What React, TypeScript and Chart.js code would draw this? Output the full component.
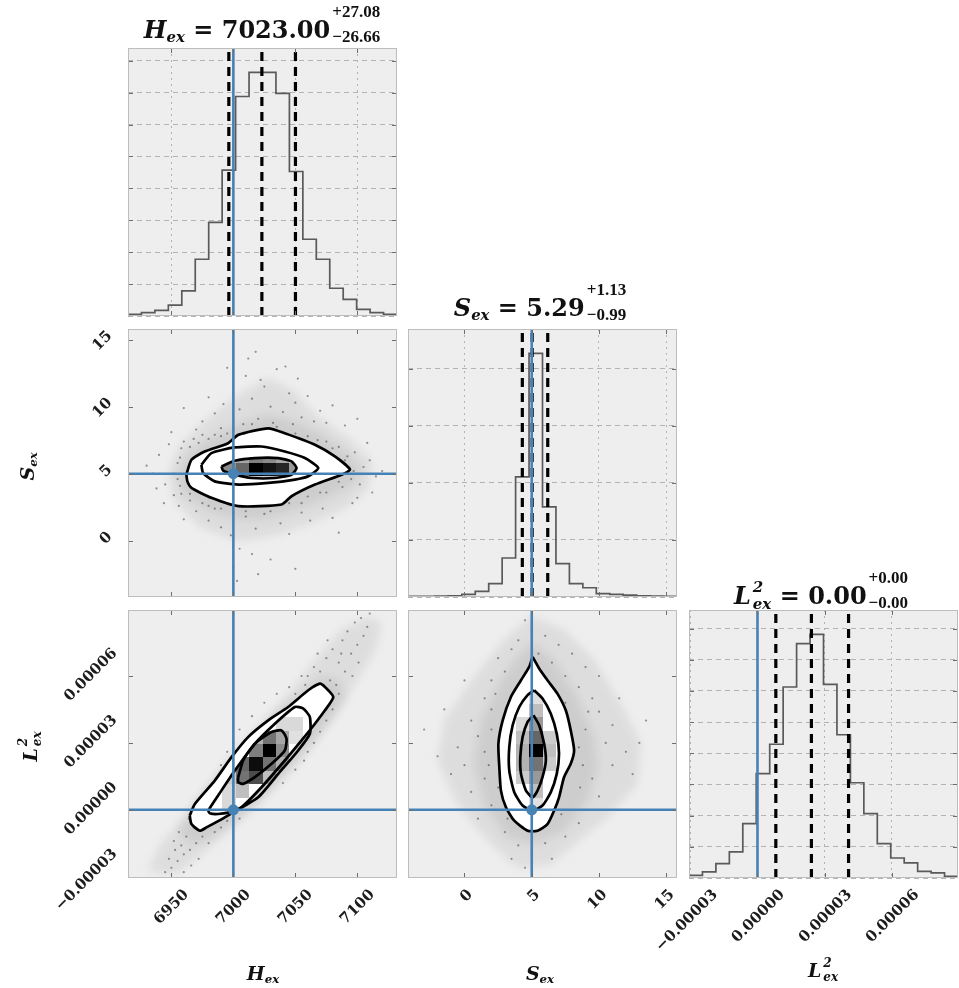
import React, { useEffect, useRef } from 'react';
import { Chart, registerables } from 'chart.js';

Chart.register(...registerables);

// ---------------- data ----------------
const NBINS = 20;
const H_RANGE: [number, number] = [6915, 7132];
const S_RANGE: [number, number] = [-4.2, 15.8];
const L_RANGE: [number, number] = [-30.6e-6, 89.6e-6];

const H_TICKS = [6950, 7000, 7050, 7100];
const S_TICKS = [0, 5, 10, 15];
const L_TICKS = [-0.00003, 0, 0.00003, 0.00006];

const H_TRUTH = 7000;
const S_TRUTH = 5;
const L_TRUTH = 0;

const H_COUNTS = [7, 14, 23, 45, 103, 233, 384, 599, 901, 1000, 1000, 914, 593, 315, 233, 114, 68, 27, 14, 7];
const S_COUNTS = [3, 3, 4, 5, 11, 23, 55, 160, 493, 1000, 370, 137, 55, 38, 14, 11, 8, 5, 4, 3];
const L_COUNTS = [11, 25, 59, 107, 223, 428, 549, 784, 962, 1000, 795, 588, 391, 264, 141, 82, 62, 27, 21, 7];

const H_QUANTILES = [6996.34, 7023.0, 7050.08];
const S_QUANTILES = [4.3, 5.03, 6.19];
const L_QUANTILES = [8.2e-6, 24.1e-6, 40.7e-6];

const H_HIST_STEP = 131;
const S_HIST_STEP = 234;
const L_HIST_STEP = 128;

type Pt = [number, number];

// contours (outer, middle, inner)
const HS_OUTER: Pt[] = [[6962.1, 4.93], [6966.2, 6.04], [6976.9, 6.66], [6995.8, 7.28], [7003.9, 7.9], [7028.1, 8.39], [7041.5, 8.02], [7065.8, 7.16], [7081.9, 6.29], [7094.1, 5.3], [7087.3, 4.93], [7065.8, 4.19], [7046.9, 3.32], [7038.9, 2.7], [7003.9, 2.58], [6982.3, 3.2], [6966.2, 3.94], [6962.9, 4.43]];
const HS_MIDDLE: Pt[] = [[6974.2, 5.67], [6982.3, 6.54], [7001.2, 6.96], [7022.7, 7.03], [7041.5, 6.66], [7057.7, 6.17], [7068.5, 5.42], [7060.4, 4.81], [7049.6, 4.56], [7028.1, 4.31], [7003.9, 4.19], [6985.0, 4.43], [6975.6, 5.05]];
const HS_INNER: Pt[] = [[6990.4, 5.55], [7001.2, 5.97], [7017.3, 6.17], [7036.2, 6.17], [7046.9, 5.92], [7051.0, 5.42], [7046.9, 4.93], [7033.5, 4.68], [7014.6, 4.68], [7001.2, 4.93], [6991.7, 5.23]];

const HL_OUTER: Pt[] = [[6964.8, -2.6e-6], [6968.9, 2.6e-6], [6985.0, 13.1e-6], [6998.5, 23.6e-6], [7011.9, 32.6e-6], [7028.1, 40.1e-6], [7044.2, 46.1e-6], [7060.4, 53.6e-6], [7069.8, 56.6e-6], [7073.9, 55.1e-6], [7080.6, 50.6e-6], [7073.9, 44.6e-6], [7065.8, 38.6e-6], [7055.0, 31.1e-6], [7041.5, 22.1e-6], [7022.7, 10.1e-6], [7006.5, 1.1e-6], [6993.1, -3.4e-6], [6978.3, -7.9e-6], [6972.9, -9.4e-6], [6966.2, -6.4e-6]];
const HL_MIDDLE: Pt[] = [[6979.6, -0.4e-6], [6987.7, 6.4e-6], [7001.2, 17.6e-6], [7017.3, 29.6e-6], [7033.5, 38.6e-6], [7049.6, 46.1e-6], [7056.4, 45.4e-6], [7061.7, 41.6e-6], [7061.7, 34.1e-6], [7052.3, 26.6e-6], [7036.2, 16.1e-6], [7020.0, 5.6e-6], [7001.2, -0.4e-6], [6987.7, -1.9e-6], [6981.0, -1.6e-6]];
const HL_INNER: Pt[] = [[7003.9, 14.6e-6], [7007.9, 22.1e-6], [7017.3, 29.6e-6], [7030.8, 34.9e-6], [7038.9, 35.6e-6], [7042.9, 31.9e-6], [7041.5, 26.6e-6], [7030.8, 20.6e-6], [7017.3, 14.6e-6], [7007.9, 11.6e-6], [7003.9, 12.4e-6]];

const SL_OUTER: Pt[] = [[5.06, 68.6e-6], [5.55, 63.4e-6], [6.17, 58.1e-6], [6.91, 52.1e-6], [7.53, 44.6e-6], [7.9, 35.6e-6], [8.15, 26.6e-6], [7.9, 20.6e-6], [7.4, 14.6e-6], [7.03, 5.6e-6], [6.66, -0.4e-6], [6.17, -6.4e-6], [5.43, -9.4e-6], [4.69, -9.4e-6], [3.7, -4.9e-6], [3.08, 1.1e-6], [2.71, 8.6e-6], [2.59, 19.1e-6], [2.52, 29.6e-6], [2.84, 40.1e-6], [3.45, 50.6e-6], [4.2, 58.1e-6], [4.81, 64.1e-6]];
const SL_MIDDLE: Pt[] = [[5.18, 53.6e-6], [5.8, 49.9e-6], [6.42, 43.1e-6], [6.86, 34.1e-6], [7.03, 25.1e-6], [6.86, 16.1e-6], [6.42, 7.9e-6], [5.8, 1.9e-6], [5.06, -0.4e-6], [4.32, 1.9e-6], [3.7, 7.9e-6], [3.33, 17.6e-6], [3.33, 28.1e-6], [3.58, 37.9e-6], [4.07, 46.1e-6], [4.69, 51.4e-6]];
const SL_INNER: Pt[] = [[5.13, 42.4e-6], [5.55, 37.9e-6], [5.92, 29.6e-6], [6.05, 22.1e-6], [5.8, 14.6e-6], [5.43, 8.6e-6], [5.06, 5.6e-6], [4.57, 8.6e-6], [4.2, 16.1e-6], [4.15, 23.6e-6], [4.32, 32.6e-6], [4.69, 39.4e-6]];

// extent of the sample cloud (outer, dense)
const HS_HALO_OUTER: Pt[] = [[6947.3, 4.93], [6955.4, 6.91], [6976.9, 8.89], [7003.9, 10.87], [7028.1, 12.11], [7049.6, 11.12], [7065.8, 9.38], [7092.7, 7.65], [7111.6, 5.92], [7108.9, 3.94], [7090.0, 2.45], [7065.8, 1.46], [7036.2, 0.47], [7003.9, -0.02], [6974.2, 0.97], [6952.7, 2.95]];
const HS_HALO_INNER: Pt[] = [[6955.4, 4.93], [6963.5, 6.41], [6982.3, 7.65], [7003.9, 8.64], [7028.1, 9.38], [7049.6, 8.89], [7071.2, 7.9], [7092.7, 6.41], [7103.5, 5.18], [7095.4, 4.19], [7073.9, 3.2], [7049.6, 2.33], [7028.1, 1.71], [7003.9, 1.59], [6979.6, 2.33], [6960.8, 3.44]];
const HL_HALO_OUTER: Pt[] = [[6931.2, -27.4e-6], [6941.9, -15.4e-6], [6960.8, -3.4e-6], [6982.3, 11.6e-6], [7003.9, 26.6e-6], [7028.1, 41.6e-6], [7049.6, 55.1e-6], [7068.5, 68.6e-6], [7087.3, 80.6e-6], [7108.9, 86.6e-6], [7119.6, 83.6e-6], [7114.2, 71.6e-6], [7098.1, 56.6e-6], [7081.9, 41.6e-6], [7060.4, 26.6e-6], [7038.9, 13.1e-6], [7017.3, 1.1e-6], [6995.8, -9.4e-6], [6974.2, -19.9e-6], [6952.7, -28.9e-6]];
const HL_HALO_INNER: Pt[] = [[6955.4, -9.4e-6], [6968.9, 2.6e-6], [6990.4, 17.6e-6], [7011.9, 31.1e-6], [7033.5, 43.1e-6], [7055.0, 52.1e-6], [7071.2, 59.6e-6], [7084.6, 58.1e-6], [7090.0, 50.6e-6], [7079.2, 41.6e-6], [7063.1, 29.6e-6], [7044.2, 17.6e-6], [7022.7, 5.6e-6], [7001.2, -4.9e-6], [6982.3, -12.4e-6], [6966.2, -15.4e-6]];
const SL_HALO_OUTER: Pt[] = [[4.94, 86.6e-6], [7.4, 80.6e-6], [9.63, 67.1e-6], [11.6, 47.6e-6], [13.08, 29.6e-6], [12.84, 11.6e-6], [10.61, -3.4e-6], [8.15, -15.4e-6], [6.42, -24.4e-6], [3.95, -25.9e-6], [1.97, -15.4e-6], [-0.5, 2.6e-6], [-1.98, 22.1e-6], [-1.48, 40.1e-6], [0.74, 59.6e-6], [2.96, 76.1e-6]];
const SL_HALO_INNER: Pt[] = [[5.06, 74.6e-6], [6.66, 67.1e-6], [8.39, 50.6e-6], [9.63, 32.6e-6], [9.87, 19.1e-6], [9.13, 4.1e-6], [7.4, -9.4e-6], [5.18, -15.4e-6], [3.21, -12.4e-6], [1.48, 2.6e-6], [0.74, 20.6e-6], [1.23, 40.1e-6], [2.71, 58.1e-6], [3.95, 68.6e-6]];

// 2-D histogram cells [xBin, yBin, darkness]
const HS_CELLS = [[6, 9, 0.15], [7, 9, 0.45], [8, 9, 0.6], [9, 9, 1.0], [10, 9, 0.92], [11, 9, 0.85], [12, 9, 0.4], [7, 10, 0.2], [8, 10, 0.35], [9, 10, 0.5], [10, 10, 0.45], [11, 10, 0.35], [12, 10, 0.15], [8, 8, 0.15], [9, 8, 0.2], [10, 8, 0.2], [11, 8, 0.15]];
const HL_CELLS = [[9, 9, 0.5], [10, 9, 1.0], [9, 8, 0.95], [10, 8, 0.55], [8, 8, 0.6], [8, 7, 0.55], [9, 7, 0.7], [11, 9, 0.45], [11, 10, 0.35], [10, 10, 0.55], [9, 10, 0.3], [11, 8, 0.3], [10, 7, 0.25], [8, 6, 0.25], [7, 6, 0.15], [7, 7, 0.2], [7, 5, 0.15], [11, 11, 0.15], [12, 11, 0.15], [12, 10, 0.12]];
const SL_CELLS = [[9, 9, 1.0], [9, 10, 0.6], [9, 8, 0.55], [9, 11, 0.4], [9, 7, 0.4], [9, 12, 0.25], [9, 6, 0.25], [9, 13, 0.12], [9, 5, 0.12], [8, 9, 0.3], [8, 10, 0.25], [8, 8, 0.3], [8, 7, 0.2], [8, 11, 0.15], [10, 9, 0.25], [10, 10, 0.2], [10, 8, 0.2]];

// scattered samples outside the contours
const HS_POINTS: Pt[] = [[6985, 9.5], [6992, 10.2], [7000, 11.0], [7005, 9.8], [7010, 12.3], [7015, 10.6], [7020, 9.1], [7025, 11.5], [7030, 10.0], [7035, 12.8], [7040, 9.6], [7045, 11.0], [7050, 10.3], [7055, 9.2], [7060, 10.8], [7065, 8.9], [7070, 9.7], [7075, 8.8], [7080, 10.1], [7090, 8.6], [6975, 8.9], [6980, 10.7], [6995, 12.9], [7012, 13.6], [7022, 12.0], [7032, 8.8], [7048, 8.7], [7008, 8.7], [6990, 8.4], [6970, 8.3], [7018, 14.1], [7042, 13.0], [6960, 9.9], [7100, 9.1], [7052, 12.1],
  [6935, 5.0], [6940, 6.4], [6945, 4.2], [6948, 7.2], [6952, 3.4], [6955, 5.8], [6958, 6.9], [6944, 2.8], [6938, 3.9], [6950, 8.1], [6930, 5.6], [6956, 2.6],
  [7098, 6.6], [7102, 4.2], [7105, 5.5], [7110, 6.0], [7115, 4.8], [7100, 3.2], [7108, 7.3], [7120, 5.2], [7096, 2.8], [7112, 3.6],
  [6970, 2.2], [6980, 1.5], [6990, 1.0], [6998, 0.4], [7005, -0.6], [7010, 1.8], [7018, 0.9], [7025, 2.0], [7030, -1.4], [7038, 1.3], [7045, 0.5], [7055, 2.1], [7062, 1.5], [7072, 2.4], [7080, 1.7], [6985, 2.4], [7000, -2.0], [7015, -1.0], [7050, -2.1], [6960, 1.6], [7085, 0.6], [7003, -3.0], [7020, -2.5],
  [6960, 7.4], [6968, 7.6], [6975, 7.9], [6985, 7.9], [6995, 8.0], [7060, 7.8], [7075, 7.4], [7085, 7.0], [7092, 6.3], [7097, 5.2], [6955, 4.6], [6958, 3.5], [6965, 3.0], [6975, 2.8], [6990, 2.4], [7010, 2.2], [7045, 2.8], [7060, 3.3], [7075, 3.6], [7088, 4.0],
  [6965, 7.0], [6972, 7.3], [6980, 7.6], [6990, 7.8], [7000, 8.4], [7015, 8.7], [7035, 8.5], [7050, 8.0], [7068, 7.5], [7080, 6.9], [7090, 6.0], [7095, 4.6], [7085, 4.4], [7070, 3.6], [7055, 2.8], [7030, 2.2], [7000, 2.1], [6980, 2.6], [6965, 3.5], [6957, 4.1], [6952, 5.0], [6957, 6.2]];

const HL_POINTS: Pt[] = [[7060, 60e-6], [7065, 64e-6], [7070, 62e-6], [7075, 68e-6], [7078, 58e-6], [7080, 72e-6], [7085, 66e-6], [7088, 76e-6], [7090, 62e-6], [7092, 80e-6], [7095, 70e-6], [7098, 84e-6], [7100, 74e-6], [7103, 86e-6], [7105, 78e-6], [7108, 82e-6], [7083, 56e-6], [7072, 54e-6], [7096, 60e-6], [7110, 88e-6], [7068, 70e-6], [7058, 56e-6], [7087, 70e-6], [7101, 66e-6], [7076, 76e-6], [7055, 60e-6], [7050, 52e-6],
  [7080, 45e-6], [7075, 40e-6], [7070, 35e-6], [7060, 26e-6], [7050, 18e-6], [7040, 12e-6], [7065, 30e-6], [7085, 52e-6], [7057, 22e-6],
  [7000, 30e-6], [6995, 26e-6], [7005, 36e-6], [7015, 42e-6], [7025, 48e-6], [7035, 52e-6], [6990, 20e-6], [7045, 55e-6], [7008, 28e-6],
  [6975, -12e-6], [6970, -15e-6], [6965, -18e-6], [6960, -20e-6], [6955, -23e-6], [6950, -26e-6], [6968, -8e-6], [6962, -12e-6], [6958, -16e-6], [6953, -18e-6], [6948, -22e-6], [6972, -22e-6], [6966, -25e-6], [6980, -15e-6], [6985, -10e-6], [6978, -5e-6], [6945, -28e-6], [6960, -28e-6], [6956, -10e-6], [6990, -8e-6], [6995, -5e-6], [7005, -4e-6], [6964, -4e-6], [6952, -14e-6],
  [6975, 5e-6], [6982, 10e-6], [6988, 15e-6], [6970, 0]];

const SL_POINTS: Pt[] = [[5, 80e-6], [4, 76e-6], [6, 78e-6], [3.5, 72e-6], [5.5, 70e-6], [7, 74e-6], [2.5, 68e-6], [4.5, 85e-6], [6.5, 66e-6], [8, 70e-6], [3, 62e-6], [7.5, 60e-6], [2, 58e-6], [9, 64e-6], [4, 55e-6], [8.5, 55e-6], [1.5, 50e-6], [9.5, 50e-6], [2, 45e-6], [10, 44e-6], [0.5, 40e-6], [11, 38e-6], [1, 33e-6], [10.5, 30e-6], [-0.5, 28e-6], [12, 26e-6], [0, 20e-6], [11, 20e-6], [-2, 24e-6], [13, 30e-6], [1.5, 14e-6], [9.5, 14e-6], [0.5, 8e-6], [10, 6e-6], [2, 2e-6], [9, 0], [1, -4e-6], [8.5, -6e-6], [3, -10e-6], [7.5, -12e-6], [4, -16e-6], [6, -15e-6], [5, -20e-6], [3.5, -22e-6], [6.5, -22e-6], [4.5, -26e-6], [8.5, 28e-6], [9, 36e-6], [1.5, 26e-6], [2, 36e-6], [8.8, 20e-6], [1.8, 20e-6], [9.2, 44e-6], [12.5, 16e-6], [-1, 16e-6], [13.5, 40e-6], [-3, 36e-6], [7.5, 48e-6], [2.3, 52e-6], [5.8, 60e-6], [3.2, -4e-6], [7.2, -2e-6], [2.5, 10e-6], [8.6, 10e-6], [10, 60e-6], [0, 58e-6], [11.5, 50e-6], [-1.5, 45e-6]];

// ---------------- layout / style ----------------
const COLS = [128, 408, 689];
const ROWS = [48, 329, 610];
const PW = 269;
const PH = 268;
const BLUE = '#4682b4';
const BG = '#eeeeee';
const TICK_FONT = { family: "'DejaVu Serif', serif", size: 15, weight: 'bold' as const };
const SERIF = "'DejaVu Serif', serif";
const SCRIPT = "'Liberation Serif', 'DejaVu Serif', serif";

const toXY = (p: Pt[]) => p.map(([x, y]) => ({ x, y }));
const closed = (p: Pt[]) => toXY([...p, p[0]]);

function fmtNum(v: number) {
  return v < 0 ? '\u2212' + String(Math.abs(v)) : String(v);
}
function fmtL(v: number) {
  const a = Math.abs(v) < 1e-12 ? 0 : v;
  return (a < 0 ? '\u2212' : '') + Math.abs(a).toFixed(5);
}

function makeAxis(o: any, isX: boolean) {
  const ax: any = {
    type: 'linear',
    position: isX ? 'bottom' : 'left',
    min: o.range[0],
    max: o.range[1],
    afterFit: (s: any) => {
      if (isX) s.height = o.size;
      else s.width = o.size;
      s.paddingLeft = 0;
      s.paddingRight = 0;
      s.paddingTop = 0;
      s.paddingBottom = 0;
    },
    grid: { display: !!o.grid, color: '#b3b3b3', lineWidth: 1, drawTicks: false },
    border: { display: false, dash: o.dash || [] },
    ticks: {
      display: !!o.labels,
      includeBounds: false,
      autoSkip: false,
      minRotation: 45,
      maxRotation: 45,
      padding: o.padding || 0,
      labelOffset: o.labelOffset || 0,
      font: TICK_FONT,
      color: '#1c1c1c',
      callback: (v: any) => (o.fmt || fmtNum)(Number(v)),
    },
  };
  if (o.ticks) ax.afterBuildTicks = (s: any) => { s.ticks = o.ticks.map((v: number) => ({ value: v })); };
  if (o.step) ax.ticks.stepSize = o.step;
  return ax;
}

function polyPath(chart: any, poly: Pt[]) {
  const { ctx } = chart;
  const xs = chart.scales.x;
  const ys = chart.scales.y;
  ctx.beginPath();
  poly.forEach(([x, y], k) => {
    const px = xs.getPixelForValue(x);
    const py = ys.getPixelForValue(y);
    if (k) ctx.lineTo(px, py);
    else ctx.moveTo(px, py);
  });
  ctx.closePath();
}

function decoPlugin(pair?: any) {
  return {
    id: 'deco',
    beforeDraw(chart: any) {
      const { ctx, chartArea: a } = chart;
      ctx.save();
      ctx.fillStyle = BG;
      ctx.fillRect(a.left, a.top, a.right - a.left, a.bottom - a.top);
      ctx.restore();
    },
    beforeDatasetsDraw(chart: any) {
      if (!pair) return;
      const { ctx, chartArea: a } = chart;
      ctx.save();
      ctx.beginPath();
      ctx.rect(a.left, a.top, a.right - a.left, a.bottom - a.top);
      ctx.clip();
      ctx.filter = 'blur(5px)';
      for (const h of pair.halos) {
        polyPath(chart, h);
        ctx.fillStyle = 'rgba(0,0,0,0.07)';
        ctx.fill();
      }
      ctx.restore();
    },
    afterDatasetDraw(chart: any, args: any) {
      if (!pair || args.index !== 0) return;
      const { ctx, chartArea: a } = chart;
      const xs = chart.scales.x;
      const ys = chart.scales.y;
      ctx.save();
      ctx.beginPath();
      ctx.rect(a.left, a.top, a.right - a.left, a.bottom - a.top);
      ctx.clip();
      polyPath(chart, pair.outer);
      ctx.fillStyle = '#ffffff';
      ctx.fill();
      polyPath(chart, pair.clip);
      ctx.clip();
      const dx = (pair.xr[1] - pair.xr[0]) / NBINS;
      const dy = (pair.yr[1] - pair.yr[0]) / NBINS;
      for (const [i, j, v] of pair.cells) {
        const x0 = Math.round(xs.getPixelForValue(pair.xr[0] + i * dx));
        const x1 = Math.round(xs.getPixelForValue(pair.xr[0] + (i + 1) * dx));
        const y0 = Math.round(ys.getPixelForValue(pair.yr[0] + j * dy));
        const y1 = Math.round(ys.getPixelForValue(pair.yr[0] + (j + 1) * dy));
        ctx.fillStyle = `rgba(0,0,0,${v})`;
        ctx.fillRect(Math.min(x0, x1), Math.min(y0, y1), Math.abs(x1 - x0), Math.abs(y1 - y0));
      }
      ctx.restore();
    },
    afterDraw(chart: any) {
      const { ctx, chartArea: a } = chart;
      const xs = chart.scales.x;
      const ys = chart.scales.y;
      ctx.save();
      ctx.strokeStyle = '#6e6e6e';
      ctx.lineWidth = 1;
      ctx.beginPath();
      for (const t of xs.ticks) {
        const p = Math.round(xs.getPixelForValue(t.value)) + 0.5;
        if (p < a.left + 2 || p > a.right - 2) continue;
        ctx.moveTo(p, a.top);
        ctx.lineTo(p, a.top + 5);
        ctx.moveTo(p, a.bottom);
        ctx.lineTo(p, a.bottom - 5);
      }
      for (const t of ys.ticks) {
        const p = Math.round(ys.getPixelForValue(t.value)) + 0.5;
        if (p < a.top + 2 || p > a.bottom - 2) continue;
        ctx.moveTo(a.left, p);
        ctx.lineTo(a.left + 5, p);
        ctx.moveTo(a.right, p);
        ctx.lineTo(a.right - 5, p);
      }
      ctx.stroke();
      ctx.strokeStyle = '#bdbdbd';
      ctx.strokeRect(a.left + 0.5, a.top + 0.5, a.right - a.left - 1, a.bottom - a.top - 1);
      ctx.restore();
    },
  };
}

function commonOptions(m: any, x: any, y: any) {
  return {
    responsive: false,
    animation: false,
    events: [],
    layout: { padding: { top: m.t, right: m.r, left: 0, bottom: 0 } },
    plugins: { legend: { display: false }, tooltip: { enabled: false } },
    scales: { x, y },
  };
}

function histConfig(o: any, m: any) {
  const n = o.counts.length;
  const w = (o.range[1] - o.range[0]) / n;
  const pts: any[] = [{ x: o.range[0], y: 0 }];
  o.counts.forEach((c: number, i: number) => {
    pts.push({ x: o.range[0] + i * w, y: c });
    pts.push({ x: o.range[0] + (i + 1) * w, y: c });
  });
  pts.push({ x: o.range[1], y: 0 });
  const ymax = Math.max(...o.counts) * 1.1;
  return {
    type: 'scatter',
    data: {
      datasets: [
        { data: pts, showLine: true, borderColor: '#5a5a5a', borderWidth: 1.7, pointRadius: 0, tension: 0, order: 5 },
        ...o.quantiles.map((q: number) => ({
          data: [{ x: q, y: 0 }, { x: q, y: ymax }], showLine: true, borderColor: '#000000', borderWidth: 3.2, borderDash: [9, 6], pointRadius: 0, order: 3,
        })),
        { data: [{ x: o.truth, y: 0 }, { x: o.truth, y: ymax }], showLine: true, borderColor: BLUE, borderWidth: 2.6, pointRadius: 0, order: 1 },
      ],
    },
    options: commonOptions(
      m,
      makeAxis({ ...o.xAxis, range: o.range, ticks: o.ticks, grid: true, dash: [2, 4], size: m.b }, true),
      makeAxis({ range: [0, ymax], step: o.step, grid: true, dash: [5, 4], size: m.l }, false),
    ),
    plugins: [decoPlugin()],
  };
}

function pairConfig(o: any, m: any) {
  const contour = (poly: Pt[]) => ({
    data: closed(poly), showLine: true, borderColor: '#000000', borderWidth: 2.7, pointRadius: 0, tension: 0.2, order: 5,
  });
  return {
    type: 'scatter',
    data: {
      datasets: [
        { data: toXY(o.points), showLine: false, pointRadius: 1.1, backgroundColor: 'rgba(50,50,50,0.5)', pointBackgroundColor: 'rgba(50,50,50,0.5)', pointBorderWidth: 0, borderWidth: 0, order: 10 },
        contour(o.outer),
        contour(o.middle),
        contour(o.inner),
        { data: [{ x: o.truth[0], y: o.yr[0] }, { x: o.truth[0], y: o.yr[1] }], showLine: true, borderColor: BLUE, borderWidth: 2.6, pointRadius: 0, order: 2 },
        { data: [{ x: o.xr[0], y: o.truth[1] }, { x: o.xr[1], y: o.truth[1] }], showLine: true, borderColor: BLUE, borderWidth: 2.6, pointRadius: 0, order: 2 },
        { data: [{ x: o.truth[0], y: o.truth[1] }], showLine: false, pointRadius: 5.5, backgroundColor: BLUE, pointBackgroundColor: BLUE, pointBorderWidth: 0, order: 1 },
      ],
    },
    options: commonOptions(
      m,
      makeAxis({ ...o.xAxis, range: o.xr, ticks: o.xTicks, size: m.b }, true),
      makeAxis({ ...o.yAxis, range: o.yr, ticks: o.yTicks, size: m.l }, false),
    ),
    plugins: [decoPlugin({ outer: o.outer, clip: o.clip, cells: o.cells, halos: o.halos, xr: o.xr, yr: o.yr })],
  };
}

// ---------------- panels ----------------
const PANELS: any[] = [
  {
    key: 'hH', col: 0, row: 0, m: { l: 6, t: 6, r: 6, b: 6 },
    build: (m: any) => histConfig({ range: H_RANGE, ticks: H_TICKS, counts: H_COUNTS, quantiles: H_QUANTILES, truth: H_TRUTH, step: H_HIST_STEP, xAxis: {} }, m),
  },
  {
    key: 'hS', col: 1, row: 1, m: { l: 6, t: 6, r: 6, b: 6 },
    build: (m: any) => histConfig({ range: S_RANGE, ticks: S_TICKS, counts: S_COUNTS, quantiles: S_QUANTILES, truth: S_TRUTH, step: S_HIST_STEP, xAxis: {} }, m),
  },
  {
    key: 'hL', col: 2, row: 2, m: { l: 70, t: 6, r: 1, b: 110 },
    build: (m: any) => histConfig({ range: L_RANGE, ticks: L_TICKS, counts: L_COUNTS, quantiles: L_QUANTILES, truth: L_TRUTH, step: L_HIST_STEP, xAxis: { labels: true, fmt: fmtL, padding: 8, labelOffset: 25 } }, m),
  },
  {
    key: 'HS', col: 0, row: 1, m: { l: 128, t: 6, r: 6, b: 6 },
    build: (m: any) => pairConfig({
      xr: H_RANGE, yr: S_RANGE, xTicks: H_TICKS, yTicks: S_TICKS, truth: [H_TRUTH, S_TRUTH],
      points: HS_POINTS, outer: HS_OUTER, middle: HS_MIDDLE, inner: HS_INNER, clip: HS_INNER, cells: HS_CELLS,
      halos: [HS_HALO_OUTER, HS_HALO_INNER],
      xAxis: {}, yAxis: { labels: true, padding: 18, labelOffset: -6 },
    }, m),
  },
  {
    key: 'HL', col: 0, row: 2, m: { l: 128, t: 6, r: 6, b: 110 },
    build: (m: any) => pairConfig({
      xr: H_RANGE, yr: L_RANGE, xTicks: H_TICKS, yTicks: L_TICKS, truth: [H_TRUTH, L_TRUTH],
      points: HL_POINTS, outer: HL_OUTER, middle: HL_MIDDLE, inner: HL_INNER, clip: HL_MIDDLE, cells: HL_CELLS,
      halos: [HL_HALO_OUTER, HL_HALO_INNER],
      xAxis: { labels: true, padding: 8, labelOffset: 15 }, yAxis: { labels: true, fmt: fmtL, padding: 13, labelOffset: -25 },
    }, m),
  },
  {
    key: 'SL', col: 1, row: 2, m: { l: 6, t: 6, r: 6, b: 110 },
    build: (m: any) => pairConfig({
      xr: S_RANGE, yr: L_RANGE, xTicks: S_TICKS, yTicks: L_TICKS, truth: [S_TRUTH, L_TRUTH],
      points: SL_POINTS, outer: SL_OUTER, middle: SL_MIDDLE, inner: SL_INNER, clip: SL_MIDDLE, cells: SL_CELLS,
      halos: [SL_HALO_OUTER, SL_HALO_INNER],
      xAxis: { labels: true, padding: 8, labelOffset: 6 }, yAxis: {},
    }, m),
  },
];

function ChartPanel({ p }: { p: any }) {
  const ref = useRef<HTMLCanvasElement>(null);
  const { l, t, r, b } = p.m;
  const W = PW + l + r;
  const H = PH + t + b;
  useEffect(() => {
    const chart = new Chart(ref.current as HTMLCanvasElement, p.build(p.m));
    return () => chart.destroy();
  }, []);
  return (
    <canvas
      ref={ref}
      width={W}
      height={H}
      style={{ position: 'absolute', left: COLS[p.col] - l, top: ROWS[p.row] - t, width: W, height: H }}
    />
  );
}

// ---------------- text ----------------
function TextAt({ cx, baseline, size, rotate, children }: any) {
  const LH = size * 3;
  const asc = (LH - 1.164 * size) / 2 + 0.928 * size;
  const top = baseline - asc;
  const originY = asc - size * 0.35;
  return (
    <div
      style={{
        position: 'absolute', left: cx - 200, top, width: 400, height: LH, lineHeight: LH + 'px',
        fontSize: size, fontFamily: SERIF, fontWeight: 'bold', textAlign: 'center', whiteSpace: 'nowrap', color: '#111',
        transform: rotate ? 'rotate(-90deg)' : undefined, transformOrigin: `200px ${originY}px`,
      }}
    >
      {children}
    </div>
  );
}

function Sub({ children }: any) {
  return <span style={{ fontSize: '0.62em', verticalAlign: '-0.28em', fontStyle: 'italic' }}>{children}</span>;
}

function Stack({ top, bottom, size, gap, shift, font, italic }: any) {
  return (
    <span style={{ display: 'inline-block', verticalAlign: `${-shift}px`, fontSize: size, lineHeight: gap + 'px', fontFamily: font, textAlign: 'left', marginLeft: 2, fontStyle: italic ? 'italic' : 'normal' }}>
      <span style={{ display: 'block' }}>{top}</span>
      <span style={{ display: 'block' }}>{bottom}</span>
    </span>
  );
}

export default function App() {
  return (
    <div style={{ position: 'absolute', left: 0, top: 0, width: 959, height: 988, overflow: 'hidden', background: '#ffffff' }}>
      {PANELS.map((p) => <ChartPanel key={p.key} p={p} />)}

      <TextAt cx={262} baseline={38} size={24}>
        <i>H</i><Sub>ex</Sub>{' = 7023.00'}
        <Stack top="+27.08" bottom={'\u221226.66'} size={17} gap={25} shift={4} font={SCRIPT} />
      </TextAt>
      <TextAt cx={540} baseline={316} size={24}>
        <i>S</i><Sub>ex</Sub>{' = 5.29'}
        <Stack top="+1.13" bottom={'\u22120.99'} size={17} gap={25} shift={4} font={SCRIPT} />
      </TextAt>
      <TextAt cx={821} baseline={604} size={24}>
        <i>L</i>
        <Stack top="2" bottom="ex" size={15} gap={17} shift={5} font={SERIF} italic />
        {' = 0.00'}
        <Stack top="+0.00" bottom={'\u22120.00'} size={17} gap={25} shift={4} font={SCRIPT} />
      </TextAt>

      <TextAt cx={263} baseline={980} size={19}>
        <i>H</i><Sub>ex</Sub>
      </TextAt>
      <TextAt cx={540} baseline={980} size={19}>
        <i>S</i><Sub>ex</Sub>
      </TextAt>
      <TextAt cx={823} baseline={977} size={19}>
        <i>L</i>
        <Stack top="2" bottom="ex" size={12} gap={14} shift={4} font={SERIF} italic />
      </TextAt>

      <TextAt cx={27} baseline={466 + 19 * 0.35} size={19} rotate>
        <i>S</i><Sub>ex</Sub>
      </TextAt>
      <TextAt cx={30} baseline={746 + 19 * 0.35} size={19} rotate>
        <i>L</i>
        <Stack top="2" bottom="ex" size={12} gap={14} shift={4} font={SERIF} italic />
      </TextAt>
    </div>
  );
}
